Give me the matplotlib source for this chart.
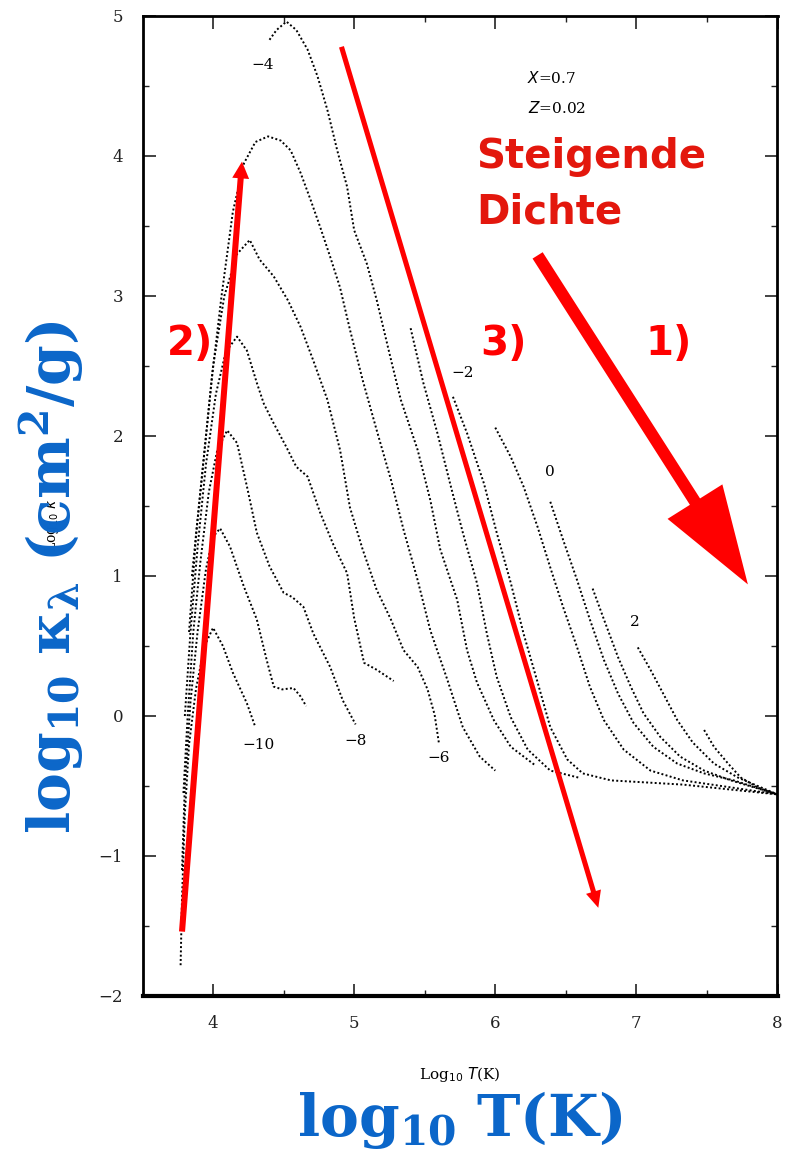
import matplotlib.pyplot as plt

# Opazitätskurven (log T, log kappa) für verschiedene log rho
T_m10 = [3.77, 3.78, 3.80, 3.83, 3.88, 3.94, 4.00, 4.07, 4.14, 4.24, 4.30]
K_m10 = [-1.78, -1.30, -0.70, -0.20, 0.20, 0.50, 0.63, 0.50, 0.31, 0.09, -0.08]

T_m9 = [3.78, 3.80, 3.84, 3.89, 3.95, 4.00, 4.05, 4.12, 4.22, 4.31, 4.38, 4.43, 4.49, 4.57, 4.62, 4.66]
K_m9 = [-1.10, -0.50, 0.10, 0.60, 1.05, 1.28, 1.34, 1.21, 0.92, 0.69, 0.40, 0.21, 0.19, 0.20, 0.14, 0.07]

T_m8 = [3.79, 3.82, 3.86, 3.91, 3.97, 4.03, 4.10, 4.17, 4.24, 4.31, 4.40, 4.50, 4.56, 4.64, 4.71, 4.83, 4.92, 5.01]
K_m8 = [-0.55, 0.00, 0.60, 1.10, 1.60, 1.90, 2.04, 1.95, 1.64, 1.31, 1.07, 0.88, 0.85, 0.78, 0.59, 0.35, 0.11, -0.06]

T_m7 = [3.80, 3.84, 3.89, 3.95, 4.02, 4.09, 4.17, 4.24, 4.31, 4.36, 4.43, 4.52, 4.59, 4.67, 4.76, 4.85, 4.95, 5.00, 5.07, 5.16, 5.28]
K_m7 = [0.00, 0.60, 1.20, 1.80, 2.30, 2.60, 2.71, 2.61, 2.38, 2.23, 2.09, 1.92, 1.78, 1.71, 1.45, 1.23, 1.02, 0.70, 0.38, 0.33, 0.25]

T_m6 = [3.83, 3.88, 3.94, 4.00, 4.08, 4.17, 4.26, 4.33, 4.43, 4.53, 4.62, 4.71, 4.81, 4.90, 4.97, 5.06, 5.16, 5.26, 5.35, 5.45, 5.52, 5.57, 5.60]
K_m6 = [0.60, 1.30, 1.90, 2.50, 3.00, 3.30, 3.40, 3.26, 3.14, 2.97, 2.78, 2.54, 2.26, 1.90, 1.49, 1.19, 0.90, 0.69, 0.47, 0.35, 0.19, 0.01, -0.19]

T_m5 = [3.85, 3.92, 3.99, 4.06, 4.14, 4.22, 4.30, 4.39, 4.48, 4.55, 4.62, 4.69, 4.76, 4.83, 4.90, 4.97, 5.06, 5.16, 5.26, 5.35, 5.45, 5.54, 5.66, 5.77, 5.89, 6.00]
K_m5 = [1.00, 1.70, 2.40, 3.00, 3.60, 3.95, 4.10, 4.14, 4.11, 4.04, 3.88, 3.69, 3.49, 3.28, 3.06, 2.76, 2.40, 2.04, 1.69, 1.33, 0.97, 0.61, 0.26, -0.08, -0.29, -0.39]

T_m4 = [4.40, 4.45, 4.52, 4.59, 4.67, 4.74, 4.81, 4.88, 4.95, 5.00, 5.09, 5.16, 5.25, 5.33, 5.45, 5.54, 5.61, 5.73, 5.80, 5.87, 5.99, 6.11, 6.28]
K_m4 = [4.83, 4.90, 4.96, 4.90, 4.76, 4.57, 4.33, 4.04, 3.78, 3.47, 3.23, 2.97, 2.59, 2.26, 1.90, 1.54, 1.19, 0.83, 0.47, 0.24, -0.03, -0.22, -0.35]

T_m3 = [5.40, 5.49, 5.59, 5.68, 5.77, 5.87, 5.94, 6.01, 6.11, 6.23, 6.39, 6.59]
K_m3 = [2.77, 2.38, 2.02, 1.66, 1.31, 0.95, 0.59, 0.28, -0.01, -0.24, -0.39, -0.44]

T_m2 = [5.70, 5.80, 5.92, 6.01, 6.11, 6.20, 6.30, 6.39, 6.51, 6.62, 6.82, 7.33, 8.00]
K_m2 = [2.28, 2.02, 1.66, 1.31, 0.95, 0.59, 0.24, -0.08, -0.31, -0.41, -0.46, -0.49, -0.56]

T_m1 = [6.00, 6.11, 6.20, 6.30, 6.39, 6.48, 6.58, 6.67, 6.77, 6.91, 7.10, 7.33, 7.67, 8.00]
K_m1 = [2.06, 1.85, 1.64, 1.35, 1.06, 0.78, 0.49, 0.21, -0.03, -0.24, -0.39, -0.46, -0.51, -0.56]

T_0 = [6.39, 6.48, 6.58, 6.67, 6.77, 6.87, 6.98, 7.12, 7.29, 7.48, 7.69, 8.00]
K_0 = [1.53, 1.26, 0.97, 0.69, 0.40, 0.16, -0.05, -0.22, -0.34, -0.41, -0.46, -0.56]

T_p1 = [6.69, 6.77, 6.87, 6.96, 7.05, 7.17, 7.31, 7.48, 7.67, 8.00]
K_p1 = [0.91, 0.69, 0.42, 0.21, 0.02, -0.15, -0.29, -0.39, -0.46, -0.56]

T_p2 = [7.01, 7.10, 7.19, 7.29, 7.40, 7.55, 7.72, 8.00]
K_p2 = [0.49, 0.33, 0.16, -0.03, -0.19, -0.34, -0.44, -0.56]

T_p3 = [7.48, 7.55, 7.65, 7.74, 7.86, 8.00]
K_p3 = [-0.10, -0.22, -0.34, -0.44, -0.51, -0.56]

curves = [(T_m10, K_m10), (T_m9, K_m9), (T_m8, K_m8), (T_m7, K_m7), (T_m6, K_m6),
          (T_m5, K_m5), (T_m4, K_m4), (T_m3, K_m3), (T_m2, K_m2), (T_m1, K_m1),
          (T_0, K_0), (T_p1, K_p1), (T_p2, K_p2), (T_p3, K_p3)]

# Beschriftungen der Kurven (log rho)
label_text = ["\u22124", "\u22122", "0", "2", "\u221210", "\u22128", "\u22126"]
label_x = [4.35, 5.77, 6.39, 6.99, 4.32, 5.01, 5.60]
label_y = [4.65, 2.45, 1.74, 0.67, -0.21, -0.18, -0.30]

W, H = 788, 1156
fig = plt.figure(figsize=(W / 100, H / 100), dpi=100)
ax = fig.add_axes([142.5 / W, 1 - 996 / H, 635 / W, 980 / H])

for T, K in curves:
    ax.plot(T, K, color="black", linestyle=(0, (1, 1.2)), linewidth=1.4)

ax.set_xlim(3.5, 8)
ax.set_ylim(-2, 5)
ax.set_xticks([4, 5, 6, 7, 8])
ax.set_xticks([4.5, 5.5, 6.5, 7.5], minor=True)
ax.set_yticks(range(-2, 6))
ax.set_yticks([-1.5, -0.5, 0.5, 1.5, 2.5, 3.5, 4.5], minor=True)
ax.tick_params(which="both", direction="in", top=True, right=True, colors="#222222")
ax.tick_params(which="major", length=9, width=1.2, labelsize=12, pad=14)
ax.tick_params(which="minor", length=4, width=1)
for lab in ax.get_xticklabels() + ax.get_yticklabels():
    lab.set_family("DejaVu Serif")
for side in ["left", "top", "right"]:
    ax.spines[side].set_linewidth(2)
ax.spines["bottom"].set_linewidth(3)

# Kurvenbeschriftungen
for t, x, y in zip(label_text, label_x, label_y):
    ax.text(x, y, t, fontsize=11, family="DejaVu Serif", ha="center", va="center")
ax.text(6.40, 4.56, "$X$=0.7", fontsize=11, family="DejaVu Serif", ha="center", va="center")
ax.text(6.44, 4.34, "$Z$=0.02", fontsize=11, family="DejaVu Serif", ha="center", va="center")

# kleine Original-Achsentitel
fig.text(460 / W, 1 - 1075 / H, "Log$_{10}$ $T$(K)", fontsize=11, family="DejaVu Serif",
         ha="center", va="center")
fig.text(52 / W, 1 - 525 / H, "Log$_{10}$ $\\kappa$", fontsize=10, family="DejaVu Serif",
         ha="center", va="center", rotation=90)

# rote Pfeile
ax.arrow(6.30, 3.29, 7.79 - 6.30, 0.94 - 3.29, width=0.085, head_width=0.46,
         head_length=0.70, length_includes_head=True, color="red", lw=0, zorder=5)
ax.arrow(3.78, -1.54, 4.205 - 3.78, 3.96 + 1.54, width=0.043, head_width=0.12,
         head_length=0.12, length_includes_head=True, color="red", lw=0, zorder=5)
ax.arrow(4.91, 4.78, 6.73 - 4.91, -1.37 - 4.78, width=0.036, head_width=0.11,
         head_length=0.12, length_includes_head=True, color="red", lw=0, zorder=5)

red_font = dict(family="DejaVu Sans", fontweight="bold", fontsize=29)
ax.text(5.865, 3.99, "Steigende", color="#e3170d", ha="left", va="center", **red_font)
ax.text(5.865, 3.60, "Dichte", color="#e3170d", ha="left", va="center", **red_font)
ax.text(3.837, 2.66, "2)", color="red", ha="center", va="center", **red_font)
ax.text(6.057, 2.66, "3)", color="red", ha="center", va="center", **red_font)
ax.text(7.227, 2.66, "1)", color="red", ha="center", va="center", **red_font)

# blaue Achsentitel
plt.rcParams["mathtext.fontset"] = "dejavuserif"
blue = "#0b66c9"
fig.text(460 / W, 1 - 1120 / H, r"$\mathbf{log_{10}\ T(K)}$", fontsize=42, color=blue,
         ha="center", va="center")
fig.text(52 / W, 1 - 577 / H, r"$\mathbf{log_{10}\ \kappa_{\lambda}\ (cm^2/g)}$", fontsize=42,
         color=blue, ha="center", va="center", rotation=90)

fig.savefig("out.png", dpi=100)
